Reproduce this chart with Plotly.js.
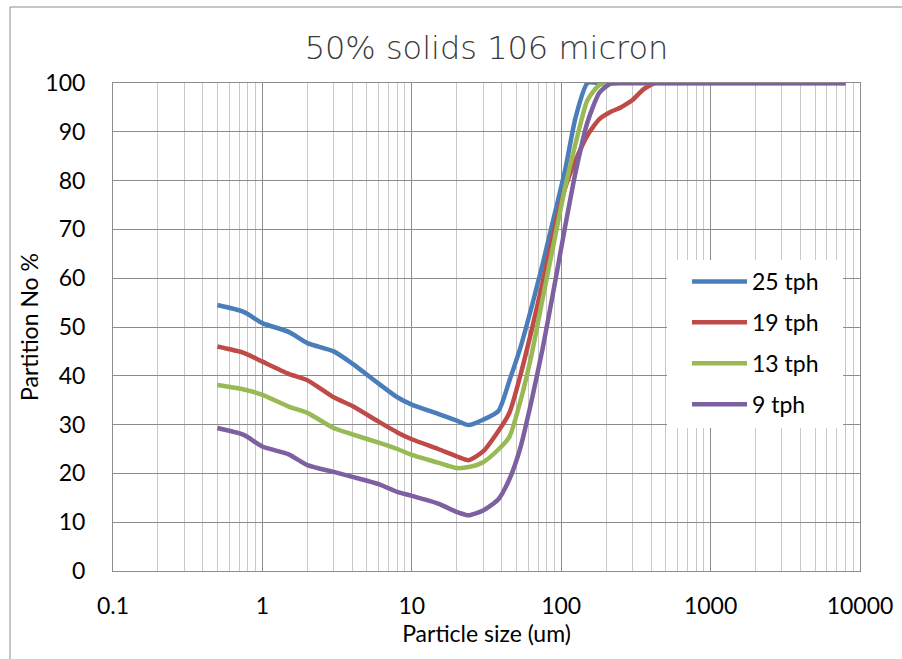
<!DOCTYPE html>
<html>
<head>
<meta charset="utf-8">
<script src="https://cdn.plot.ly/plotly-3.0.1.min.js"></script>
<style>html,body{margin:0;padding:0;background:#fff;}#chart{width:902px;height:659px;}</style>
</head>
<body>
<div id="chart"></div>
<script>
// Particle size (um)
const sizes = [0.5, 0.75, 1, 1.5, 2, 3, 4, 6, 8, 10, 15, 20, 24, 30, 38, 45, 53, 63, 75, 90, 106, 125, 150, 180, 212, 250, 300, 355, 425, 500, 1000, 2000, 4000, 8000];
// Partition No % per feed rate
const tph25 = [54.5, 53.1, 50.8, 49.0, 46.7, 45.0, 42.5, 38.4, 35.6, 34.1, 32.2, 30.8, 29.9, 31.0, 32.8, 39.0, 45.5, 53.8, 62.8, 72.9, 82.0, 93.0, 100, 100, 100, 100, 100, 100, 100, 100, 100, 100, 100, 100];
const tph19 = [46.0, 44.7, 42.9, 40.4, 39.1, 35.6, 33.8, 30.6, 28.4, 27.0, 25.0, 23.5, 22.7, 24.5, 28.7, 32.4, 39.8, 49.0, 59.0, 70.0, 78.4, 84.2, 89.3, 92.6, 94.0, 95.0, 96.5, 98.7, 100, 100, 100, 100, 100, 100];
const tph13 = [38.1, 37.2, 36.1, 33.7, 32.4, 29.3, 28.0, 26.3, 25.0, 23.8, 22.2, 21.1, 21.3, 22.3, 24.9, 27.5, 34.5, 44.0, 55.7, 67.8, 78.5, 87.7, 96.5, 99.6, 100, 100, 100, 100, 100, 100, 100, 100, 100, 100];
const tph9  = [29.3, 27.9, 25.5, 23.9, 21.7, 20.3, 19.3, 17.8, 16.2, 15.4, 13.8, 12.1, 11.4, 12.4, 14.7, 18.8, 25.0, 34.6, 45.5, 58.4, 70.4, 81.8, 92.0, 98.0, 99.8, 100, 100, 100, 100, 100, 100, 100, 100, 100];
const seriesNames = ["25 tph", "19 tph", "13 tph", "9 tph"];
const xTickVals = [0.1, 1, 10, 100, 1000, 10000];
const xTickText = ["0.1", "1", "10", "100", "1000", "10000"];

const colors = ["#4A7EBB", "#BE4B48", "#98B954", "#7D60A0"];
const ys = [tph25, tph19, tph13, tph9];
const font = "Lato, 'Open Sans', sans-serif";

const traces = ys.map((y, i) => ({
  x: sizes, y: y, name: seriesNames[i], type: "scatter", mode: "lines",
  legendgroup: "g" + i,
  line: {color: colors[i], width: 4.5, shape: "spline", smoothing: 0.6}
}));

const W = 747, H = 488, L = 113, T = 83;
const px = v => (v - L) / W;
const py = v => (T + H - v) / H;

const layout = {
  width: 902, height: 659,
  margin: {l: L, r: 902 - L - W, t: T, b: 659 - T - H},
  paper_bgcolor: "#ffffff", plot_bgcolor: "#ffffff",
  font: {family: font, color: "#000"},
  title: {text: "50% solids 106 micron", x: 0.5, xref: "paper", xanchor: "center", y: 1 - 48/659, yanchor: "middle",
          font: {family: "'DejaVu Sans', sans-serif", size: 32, color: "#3a3a3a", weight: 200}},
  showlegend: true,
  legend: {x: px(687), y: py(260), xanchor: "left", yanchor: "top", bgcolor: "rgba(0,0,0,0)",
           font: {size: 23, family: font, color: "#000"}, itemwidth: 55, traceorder: "grouped",
           tracegroupgap: 8, borderwidth: 0},
  xaxis: {type: "log", range: [-1, 4], tickvals: xTickVals, ticktext: xTickText,
          showgrid: true, gridcolor: "#8c8c8c", gridwidth: 1,
          minor: {dtick: "D1", showgrid: true, gridcolor: "#c8c8c8", gridwidth: 1, ticks: ""},
          showline: true, linecolor: "#8c8c8c", linewidth: 1, mirror: true, ticks: "",
          ticklabelstandoff: 14,
          tickfont: {size: 23, family: font}, zeroline: false,
          title: {text: "Particle size (um)", font: {size: 23, family: font}, standoff: 4}},
  yaxis: {range: [0, 100], dtick: 10, showgrid: true, gridcolor: "#8c8c8c", gridwidth: 1,
          showline: true, linecolor: "#8c8c8c", mirror: true, ticks: "", zeroline: false,
          ticklabelstandoff: 22,
          tickfont: {size: 23, family: font},
          title: {text: "Partition No %", font: {size: 23, family: font}, standoff: 0}},
  shapes: [
    {type: "rect", xref: "paper", yref: "paper", x0: px(667), x1: px(843), y0: py(428), y1: py(260),
     fillcolor: "#ffffff", line: {width: 0}, layer: "above"},
    {type: "line", xref: "paper", yref: "paper", x0: px(10), x1: px(10), y0: py(700), y1: py(7),
     line: {color: "#8c8c8c", width: 1}},
    {type: "line", xref: "paper", yref: "paper", x0: px(10), x1: px(950), y0: py(7), y1: py(7),
     line: {color: "#8c8c8c", width: 1}}
  ]
};

Plotly.newPlot("chart", traces, layout, {displayModeBar: false, staticPlot: true});
</script>
</body>
</html>
